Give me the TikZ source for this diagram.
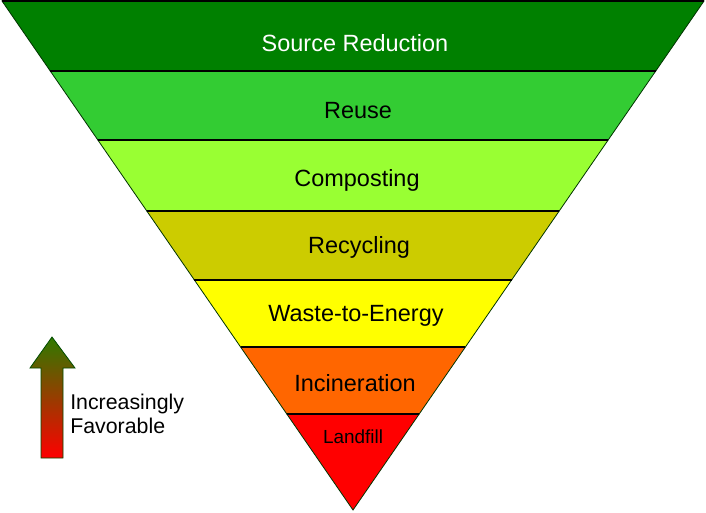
\documentclass[tikz,border=0pt]{standalone}
\usepackage{fontspec}
\setmainfont{Liberation Sans}
\definecolor{cSR}{HTML}{008000}
\definecolor{cRU}{HTML}{33CC33}
\definecolor{cCO}{HTML}{99FF33}
\definecolor{cRE}{HTML}{CCCC00}
\definecolor{cWE}{HTML}{FFFF00}
\definecolor{cIN}{HTML}{FF6600}
\definecolor{cLF}{HTML}{FF0000}
\definecolor{arrtop}{HTML}{2F7A00}
\begin{document}
\begin{tikzpicture}[x=0.75pt,y=-0.75pt,
  band/.style={draw=black!80!green, line width=0.6pt},
  sep/.style={draw=black, line width=1.3pt},
  lbl/.style={font=\fontsize{17.6}{20}\selectfont, text=black, inner sep=0pt, anchor=center},
  sidelbl/.style={font=\fontsize{16}{19}\selectfont, align=left, anchor=west, inner sep=0pt}]
\useasboundingbox (0,0) rectangle (706,512);
% bands
\path[band, fill=cSR] (2,1) -- (704,1) -- (655.73,71) -- (50.27,71) -- cycle;
\path[band, fill=cRU] (50.27,71) -- (655.73,71) -- (608.15,140) -- (97.85,140) -- cycle;
\path[band, fill=cCO] (97.85,140) -- (608.15,140) -- (559.2,211) -- (146.8,211) -- cycle;
\path[band, fill=cRE] (146.8,211) -- (559.2,211) -- (511.6,280) -- (194.4,280) -- cycle;
\path[band, fill=cWE] (194.4,280) -- (511.6,280) -- (465.4,347) -- (240.6,347) -- cycle;
\path[band, fill=cIN] (240.6,347) -- (465.4,347) -- (419.2,414) -- (286.8,414) -- cycle;
\path[band, fill=cLF] (286.8,414) -- (419.2,414) -- (353,510) -- cycle;
% separators
\draw[sep] (2,1) -- (704,1);
\draw[sep] (50.27,71) -- (655.73,71);
\draw[sep] (97.85,140) -- (608.15,140);
\draw[line width=0.9pt] (146.8,211) -- (559.2,211);
\draw[line width=0.9pt] (194.4,280) -- (511.6,280);
\draw[line width=0.9pt] (240.6,347) -- (465.4,347);
\draw[line width=0.9pt] (286.8,414) -- (419.2,414);
% labels
\node[lbl, text=white] (sr) at (355,43) {Source Reduction};
\node[lbl] (ru) at (358,111) {Reuse};
\node[lbl] (co) at (357,180) {Composting};
\node[lbl] (re) at (359,247) {Recycling};
\node[lbl] (we) at (356,316) {Waste-to-Energy};
\node[lbl] (in) at (355,383) {Incineration};
\node[lbl, font=\fontsize{14.2}{16}\selectfont] (lf) at (353,437) {Landfill};
% arrow
\shade[top color=arrtop, bottom color=red, draw=black!70!green, line width=0.6pt]
  (41,458) -- (41,368) -- (30,368) -- (52,337) -- (75,368) -- (63,368) -- (63,458) -- cycle;
\node[sidelbl] (fav) at (70,414) {Increasingly\\[-1pt]Favorable};
\end{tikzpicture}
\end{document}
